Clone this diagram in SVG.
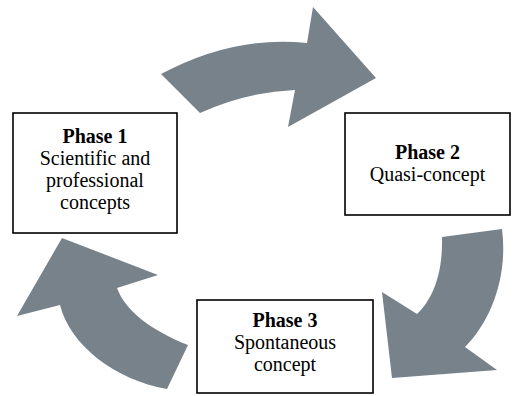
<svg xmlns="http://www.w3.org/2000/svg" width="520" height="396" viewBox="0 0 520 396">
<style>
.arrow{fill:#78828a;stroke:none}
.box{fill:#fff;stroke:#000;stroke-width:1.6}
text{font-family:"Liberation Serif","Times New Roman",serif;font-size:20px;fill:#000;text-anchor:middle}
.b{font-weight:bold}
</style>
<rect width="520" height="396" fill="#fff"/>
<g id="connectors">
<path class="arrow" d="M161,74 Q234,35 307,43 L313,7 L376,78 L288,127 L295,90 Q246,92 200,113 Z"/>
<path class="arrow" d="M442,237 L502,229 C508,275 492,320 465,347 L497,370 L392,378 L382,292 L417,314 C432,300 443,275 442,237 Z"/>
<path class="arrow" d="M167,389 L188,345 C150,330 125,310 117,288 L158,275 L62,238 L17,316 L60,305 C70,345 115,380 167,389 Z"/>
</g>
<g id="phase1">
<rect class="box" x="13" y="113" width="164" height="120"/>
<text x="95" y="143" class="b">Phase 1</text>
<text x="95" y="165">Scientific and</text>
<text x="95" y="187">professional</text>
<text x="95" y="209">concepts</text>
</g>
<g id="phase2">
<rect class="box" x="345" y="113" width="165" height="102"/>
<text x="427.5" y="159" class="b">Phase 2</text>
<text x="427.5" y="181">Quasi-concept</text>
</g>
<g id="phase3">
<rect class="box" x="197" y="300" width="176" height="93"/>
<text x="285" y="327" class="b">Phase 3</text>
<text x="285" y="349">Spontaneous</text>
<text x="285" y="371">concept</text>
</g>
</svg>
